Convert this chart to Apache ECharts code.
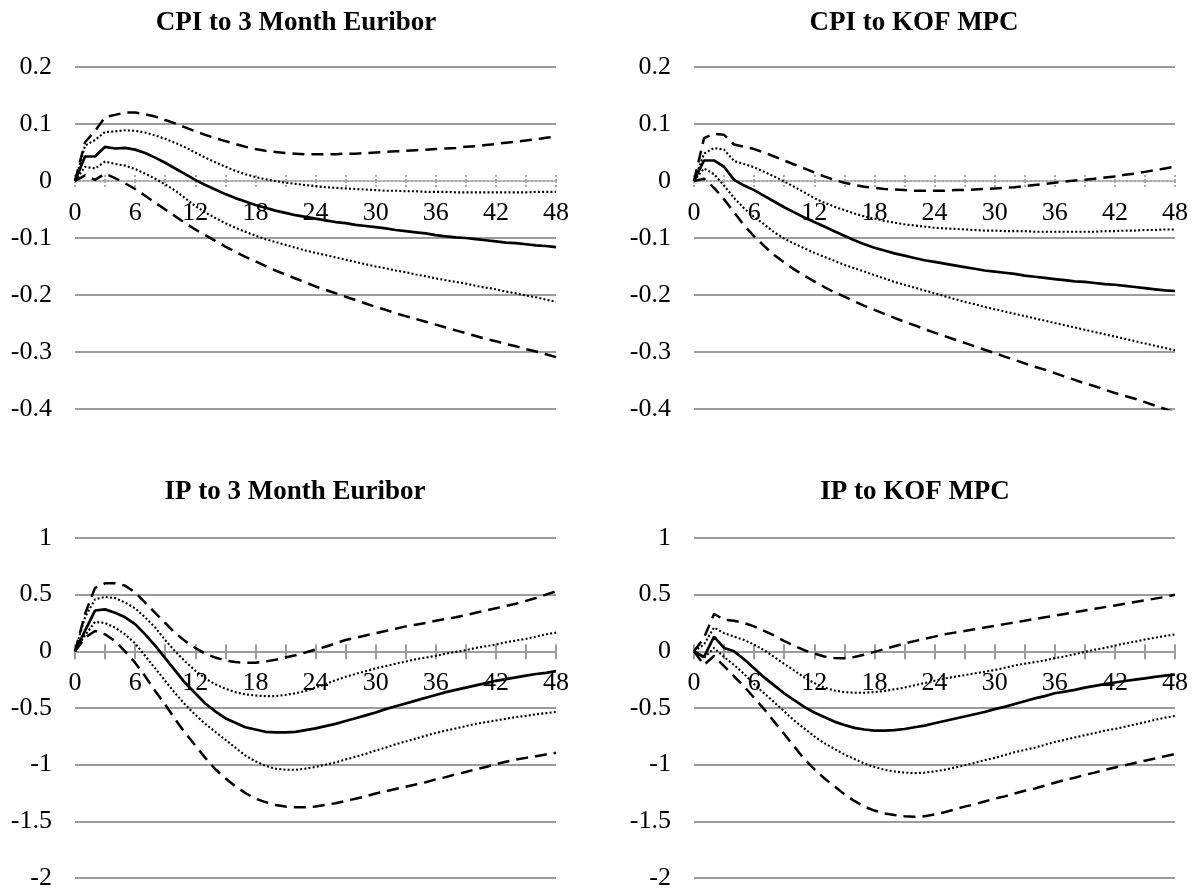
<!DOCTYPE html>
<html>
<head>
<meta charset="utf-8">
<script src="https://cdn.jsdelivr.net/npm/echarts@6/dist/echarts.min.js"></script>
<style>
html,body{margin:0;padding:0;background:#fff}
#c{width:1195px;height:892px}
</style>
</head>
<body>
<div id="c"></div>
<script>
// Horizon (months) 0..48
const months = [0,1,2,3,4,5,6,7,8,9,10,11,12,13,14,15,16,17,18,19,20,21,22,23,24,
  25,26,27,28,29,30,31,32,33,34,35,36,37,38,39,40,41,42,43,44,45,46,47,48];

// Panel titles
const titles = ['CPI to 3 Month Euribor','CPI to KOF MPC','IP to 3 Month Euribor','IP to KOF MPC'];

// ---- CPI to 3 Month Euribor ----
const cpiEurMid = [0,0.043,0.043,0.060,0.057,0.058,0.055,
  0.049,0.041,0.032,0.022,0.012,0.002,
  -0.007,-0.015,-0.023,-0.030,-0.036,-0.042,
  -0.047,-0.052,-0.056,-0.060,-0.063,-0.066,
  -0.069,-0.072,-0.074,-0.077,-0.079,-0.081,
  -0.083,-0.086,-0.088,-0.090,-0.092,-0.095,
  -0.097,-0.099,-0.100,-0.102,-0.104,-0.106,
  -0.108,-0.109,-0.111,-0.113,-0.114,-0.116];
const cpiEurInUp = [0,0.062,0.072,0.086,0.087,0.089,0.088,
  0.085,0.080,0.074,0.067,0.059,0.050,
  0.041,0.033,0.025,0.018,0.012,0.007,
  0.003,0.000,-0.003,-0.005,-0.007,-0.009,
  -0.011,-0.012,-0.013,-0.014,-0.015,-0.016,
  -0.017,-0.017,-0.018,-0.018,-0.019,-0.019,
  -0.019,-0.020,-0.020,-0.020,-0.020,-0.020,
  -0.020,-0.020,-0.020,-0.019,-0.019,-0.019];
const cpiEurOutUp = [0,0.068,0.088,0.112,0.116,0.120,0.120,
  0.117,0.113,0.107,0.101,0.094,0.087,
  0.081,0.075,0.070,0.065,0.060,0.056,
  0.053,0.051,0.049,0.048,0.047,0.047,
  0.047,0.047,0.048,0.048,0.049,0.050,
  0.051,0.052,0.053,0.054,0.055,0.056,
  0.057,0.058,0.060,0.061,0.063,0.065,
  0.067,0.069,0.071,0.073,0.076,0.078];
const cpiEurInLo = [0,0.025,0.022,0.034,0.030,0.027,0.021,
  0.013,0.004,-0.006,-0.017,-0.030,-0.044,
  -0.055,-0.065,-0.074,-0.082,-0.089,-0.096,
  -0.102,-0.107,-0.112,-0.117,-0.122,-0.126,
  -0.130,-0.134,-0.138,-0.142,-0.146,-0.150,
  -0.153,-0.157,-0.160,-0.164,-0.167,-0.171,
  -0.174,-0.177,-0.180,-0.184,-0.187,-0.190,
  -0.194,-0.197,-0.201,-0.204,-0.208,-0.212];
const cpiEurOutLo = [0,0.010,0.002,0.013,0.005,-0.004,-0.014,
  -0.026,-0.038,-0.050,-0.062,-0.074,-0.085,
  -0.095,-0.105,-0.115,-0.124,-0.133,-0.141,
  -0.149,-0.157,-0.164,-0.171,-0.178,-0.185,
  -0.191,-0.197,-0.203,-0.209,-0.215,-0.221,
  -0.226,-0.232,-0.237,-0.242,-0.247,-0.252,
  -0.257,-0.262,-0.267,-0.272,-0.277,-0.281,
  -0.286,-0.290,-0.295,-0.299,-0.304,-0.309];

// ---- CPI to KOF MPC ----
const cpiKofMid = [0,0.036,0.036,0.025,0.002,-0.008,-0.016,
  -0.026,-0.036,-0.046,-0.055,-0.064,-0.072,
  -0.080,-0.088,-0.096,-0.104,-0.111,-0.117,
  -0.122,-0.127,-0.131,-0.135,-0.139,-0.142,
  -0.145,-0.148,-0.151,-0.154,-0.157,-0.159,
  -0.161,-0.163,-0.166,-0.168,-0.170,-0.172,
  -0.174,-0.176,-0.177,-0.179,-0.181,-0.182,
  -0.184,-0.186,-0.188,-0.190,-0.192,-0.193];
const cpiKofInUp = [0,0.048,0.058,0.055,0.035,0.030,0.024,
  0.016,0.008,-0.001,-0.010,-0.020,-0.030,
  -0.038,-0.045,-0.051,-0.057,-0.062,-0.066,
  -0.070,-0.073,-0.076,-0.078,-0.080,-0.082,
  -0.083,-0.084,-0.085,-0.086,-0.087,-0.087,
  -0.088,-0.088,-0.088,-0.089,-0.089,-0.089,
  -0.089,-0.089,-0.089,-0.089,-0.088,-0.088,
  -0.087,-0.087,-0.086,-0.086,-0.085,-0.085];
const cpiKofOutUp = [0,0.075,0.083,0.081,0.064,0.060,0.056,
  0.050,0.043,0.036,0.029,0.022,0.015,
  0.008,0.002,-0.003,-0.007,-0.010,-0.012,
  -0.014,-0.015,-0.016,-0.017,-0.017,-0.017,
  -0.017,-0.016,-0.016,-0.015,-0.014,-0.013,
  -0.012,-0.011,-0.009,-0.007,-0.005,-0.003,
  -0.001,0.001,0.002,0.004,0.006,0.008,
  0.011,0.013,0.016,0.019,0.022,0.025];
const cpiKofInLo = [0,0.022,0.012,-0.008,-0.030,-0.048,-0.063,
  -0.076,-0.090,-0.101,-0.110,-0.118,-0.126,
  -0.133,-0.140,-0.147,-0.153,-0.159,-0.165,
  -0.171,-0.177,-0.182,-0.187,-0.192,-0.197,
  -0.202,-0.207,-0.212,-0.216,-0.221,-0.225,
  -0.229,-0.233,-0.237,-0.241,-0.245,-0.249,
  -0.253,-0.257,-0.261,-0.265,-0.269,-0.273,
  -0.277,-0.281,-0.285,-0.289,-0.293,-0.297];
const cpiKofOutLo = [0,0.004,-0.012,-0.032,-0.055,-0.078,-0.097,
  -0.114,-0.130,-0.143,-0.155,-0.166,-0.176,
  -0.186,-0.195,-0.203,-0.211,-0.219,-0.226,
  -0.233,-0.240,-0.247,-0.253,-0.260,-0.266,
  -0.272,-0.278,-0.284,-0.290,-0.296,-0.302,
  -0.308,-0.314,-0.320,-0.326,-0.331,-0.337,
  -0.343,-0.349,-0.355,-0.360,-0.366,-0.372,
  -0.377,-0.382,-0.388,-0.394,-0.400,-0.406];

// ---- IP to 3 Month Euribor ----
const ipEurMid = [0,0.18,0.36,0.37,0.34,0.30,0.24,
  0.15,0.05,-0.06,-0.17,-0.28,-0.37,
  -0.46,-0.53,-0.59,-0.63,-0.67,-0.69,
  -0.71,-0.715,-0.715,-0.71,-0.695,-0.68,
  -0.66,-0.64,-0.615,-0.59,-0.565,-0.54,
  -0.51,-0.485,-0.46,-0.435,-0.41,-0.385,
  -0.36,-0.34,-0.32,-0.30,-0.28,-0.26,
  -0.245,-0.23,-0.215,-0.20,-0.19,-0.175];
const ipEurInUp = [0,0.30,0.46,0.48,0.47,0.43,0.38,
  0.30,0.21,0.10,0.00,-0.09,-0.17,
  -0.24,-0.29,-0.33,-0.36,-0.38,-0.39,
  -0.395,-0.395,-0.385,-0.37,-0.35,-0.32,
  -0.29,-0.255,-0.225,-0.20,-0.175,-0.15,
  -0.13,-0.11,-0.09,-0.07,-0.055,-0.04,
  -0.02,-0.005,0.01,0.03,0.045,0.06,
  0.08,0.095,0.11,0.13,0.15,0.165];
const ipEurOutUp = [0,0.33,0.56,0.60,0.60,0.58,0.52,
  0.43,0.34,0.25,0.16,0.09,0.03,
  -0.02,-0.055,-0.08,-0.095,-0.10,-0.10,
  -0.09,-0.075,-0.055,-0.035,-0.01,0.015,
  0.04,0.07,0.10,0.12,0.14,0.16,
  0.18,0.20,0.22,0.235,0.25,0.27,
  0.285,0.30,0.32,0.34,0.36,0.38,
  0.40,0.42,0.445,0.47,0.50,0.53];
const ipEurInLo = [0,0.14,0.26,0.25,0.21,0.15,0.07,
  -0.04,-0.15,-0.26,-0.37,-0.47,-0.56,
  -0.64,-0.71,-0.78,-0.85,-0.92,-0.97,
  -1.01,-1.035,-1.045,-1.045,-1.035,-1.02,
  -1.0,-0.98,-0.955,-0.93,-0.905,-0.875,
  -0.85,-0.82,-0.795,-0.77,-0.745,-0.72,
  -0.70,-0.68,-0.66,-0.64,-0.625,-0.61,
  -0.595,-0.58,-0.57,-0.555,-0.545,-0.535];
const ipEurOutLo = [0,0.12,0.18,0.15,0.09,0.00,-0.10,
  -0.22,-0.35,-0.47,-0.60,-0.72,-0.83,
  -0.94,-1.04,-1.12,-1.19,-1.25,-1.30,
  -1.33,-1.355,-1.37,-1.375,-1.375,-1.37,
  -1.355,-1.34,-1.32,-1.30,-1.28,-1.255,
  -1.235,-1.215,-1.195,-1.175,-1.155,-1.13,
  -1.11,-1.085,-1.065,-1.04,-1.02,-0.995,
  -0.975,-0.955,-0.94,-0.925,-0.91,-0.895];

// ---- IP to KOF MPC ----
const ipKofMid = [0,-0.05,0.13,0.03,0.0,-0.07,-0.15,
  -0.23,-0.30,-0.37,-0.43,-0.49,-0.54,
  -0.58,-0.62,-0.65,-0.675,-0.69,-0.70,
  -0.70,-0.695,-0.685,-0.67,-0.655,-0.635,
  -0.615,-0.595,-0.575,-0.555,-0.535,-0.51,
  -0.49,-0.465,-0.44,-0.415,-0.395,-0.37,
  -0.355,-0.34,-0.32,-0.305,-0.29,-0.275,
  -0.262,-0.25,-0.238,-0.226,-0.215,-0.205];
const ipKofInUp = [0,0.06,0.21,0.16,0.13,0.10,0.06,
  0.01,-0.05,-0.11,-0.17,-0.23,-0.28,
  -0.32,-0.345,-0.36,-0.365,-0.365,-0.36,
  -0.35,-0.335,-0.32,-0.30,-0.28,-0.26,
  -0.24,-0.225,-0.21,-0.195,-0.18,-0.165,
  -0.145,-0.125,-0.11,-0.095,-0.08,-0.06,
  -0.045,-0.025,-0.005,0.015,0.03,0.05,
  0.07,0.085,0.105,0.12,0.135,0.15];
const ipKofOutUp = [0,0.12,0.33,0.28,0.27,0.25,0.22,
  0.18,0.14,0.09,0.05,0.01,-0.02,
  -0.045,-0.058,-0.06,-0.05,-0.03,-0.005,
  0.02,0.045,0.07,0.09,0.11,0.13,
  0.15,0.165,0.18,0.195,0.21,0.225,
  0.24,0.255,0.27,0.285,0.30,0.315,
  0.33,0.345,0.36,0.375,0.39,0.405,
  0.42,0.435,0.45,0.465,0.48,0.50];
const ipKofInLo = [0,-0.06,0.03,-0.05,-0.12,-0.20,-0.29,
  -0.37,-0.45,-0.53,-0.61,-0.68,-0.75,
  -0.81,-0.86,-0.91,-0.95,-0.99,-1.02,
  -1.045,-1.06,-1.07,-1.075,-1.07,-1.06,
  -1.045,-1.025,-1.005,-0.985,-0.96,-0.94,
  -0.915,-0.89,-0.87,-0.85,-0.825,-0.80,
  -0.78,-0.76,-0.74,-0.72,-0.70,-0.685,
  -0.665,-0.645,-0.625,-0.605,-0.585,-0.57];
const ipKofOutLo = [0,-0.12,-0.04,-0.13,-0.22,-0.31,-0.41,
  -0.51,-0.62,-0.73,-0.84,-0.95,-1.04,
  -1.12,-1.19,-1.26,-1.32,-1.37,-1.405,
  -1.43,-1.445,-1.455,-1.46,-1.455,-1.44,
  -1.42,-1.395,-1.37,-1.35,-1.325,-1.30,
  -1.28,-1.255,-1.23,-1.21,-1.185,-1.16,
  -1.135,-1.115,-1.09,-1.07,-1.045,-1.025,
  -1.005,-0.985,-0.965,-0.945,-0.925,-0.905];

// Y-axis ranges per row
const cpiRange = {min:-0.4, max:0.2, step:0.1};
const ipRange = {min:-2, max:1, step:0.5};

// ---------------- layout & style ----------------
const FONT = "'Liberation Serif','Times New Roman',Times,serif";
const GRID_COLOR = '#9c9c9c';
const PLOT_W = 481;

const panels = [
  {title:titles[0], range:cpiRange, dotted:true, left:75, top:67, height:342, titleX:296, titleTop:10,
   lines:[cpiEurOutUp,cpiEurOutLo,cpiEurInUp,cpiEurInLo,cpiEurMid]},
  {title:titles[1], range:cpiRange, dotted:true, left:694, top:67, height:342, titleX:914, titleTop:10,
   lines:[cpiKofOutUp,cpiKofOutLo,cpiKofInUp,cpiKofInLo,cpiKofMid]},
  {title:titles[2], range:ipRange, dotted:false, left:75, top:538, height:340, titleX:295, titleTop:479,
   lines:[ipEurOutUp,ipEurOutLo,ipEurInUp,ipEurInLo,ipEurMid]},
  {title:titles[3], range:ipRange, dotted:false, left:694, top:538, height:340, titleX:915, titleTop:479,
   lines:[ipKofOutUp,ipKofOutLo,ipKofInUp,ipKofInLo,ipKofMid]}
];

const lineStyles = [
  {type:[12,7], width:2.5},
  {type:[12,7], width:2.5},
  {type:[2,2.2], width:2.1},
  {type:[2,2.2], width:2.1},
  {type:'solid', width:2.7}
];

const option = {
  backgroundColor:'#ffffff',
  animation:false,
  title:[], grid:[], xAxis:[], yAxis:[], series:[]
};

function hiddenY(gi) {
  return {type:'value', gridIndex:gi, min:0, max:1, show:false,
    axisLine:{onZero:false}, splitLine:{show:false}};
}

panels.forEach((p, i) => {
  const r = p.range;
  const nLines = Math.round((r.max - r.min) / r.step) + 1;
  const zeroIdx = Math.round((0 - r.min) / r.step);
  const splitColors = [];
  for (let k = 0; k < nLines; k++) {
    splitColors.push(p.dotted && k === zeroIdx ? 'rgba(0,0,0,0)' : GRID_COLOR);
  }
  // pixel offset of the zero line from the top of the plot (layout only)
  const zeroOff = p.height * r.max / (r.max - r.min);
  const zeroStyle = {color: p.dotted ? '#a8a8a8' : GRID_COLOR, width: 2, type: p.dotted ? [2,2] : 'solid'};

  option.title.push({
    text: p.title, left: p.titleX, top: p.titleTop, textAlign: 'center', padding: 0,
    textStyle: {fontFamily: FONT, fontSize: 27, fontWeight: 'bold', color: '#000'}
  });

  const gMain = 3*i, gA = 3*i + 1, gB = 3*i + 2;
  // main plot grid
  option.grid.push({left: p.left, top: p.top, width: PLOT_W, height: p.height});
  // grid whose bottom edge sits on the zero line (axis line, lower ticks, labels)
  option.grid.push({left: p.left, top: p.top, width: PLOT_W, height: zeroOff});
  // grid whose top edge sits on the zero line (upper ticks)
  option.grid.push({left: p.left, top: p.top + zeroOff, width: PLOT_W, height: p.height - zeroOff});

  // main x axis (hidden; carries the series)
  option.xAxis.push({
    type:'category', gridIndex:gMain, data:months, boundaryGap:false, show:false,
    axisLine:{onZero:false}
  });
  // visible zero axis with labels and downward ticks
  option.xAxis.push({
    type:'category', gridIndex:gA, data:months, boundaryGap:false, position:'bottom',
    axisLine:{show:true, onZero:false, lineStyle:zeroStyle},
    axisTick:{show:true, interval:2, length:8, lineStyle:zeroStyle},
    axisLabel:{interval:5, margin:19, color:'#000', fontFamily:FONT, fontSize:26},
    splitLine:{show:false}
  });
  // upward half of the crossing ticks
  option.xAxis.push({
    type:'category', gridIndex:gB, data:months, boundaryGap:false, position:'top',
    axisLine:{show:false, onZero:false},
    axisTick:{show:true, interval:2, length:7, lineStyle:zeroStyle},
    axisLabel:{show:false},
    splitLine:{show:false}
  });

  option.yAxis.push({
    type:'value', gridIndex:gMain, min:r.min, max:r.max, interval:r.step,
    axisLine:{show:false, onZero:false}, axisTick:{show:false},
    axisLabel:{margin:23, color:'#000', fontFamily:FONT, fontSize:26,
      formatter: v => String(parseFloat(v.toFixed(1)))},
    splitLine:{show:true, lineStyle:{color:splitColors, width:2}}
  });
  option.yAxis.push(hiddenY(gA));
  option.yAxis.push(hiddenY(gB));

  p.lines.forEach((vals, j) => {
    option.series.push({
      type:'line', xAxisIndex:gMain, yAxisIndex:gMain, data:vals,
      symbol:'none', smooth:false, clip:true, silent:true,
      lineStyle:{color:'#000', width:lineStyles[j].width, type:lineStyles[j].type},
      z: 3 + j
    });
  });
});

const chart = echarts.init(document.getElementById('c'), null, {renderer:'canvas'});
chart.setOption(option);
</script>
</body>
</html>
